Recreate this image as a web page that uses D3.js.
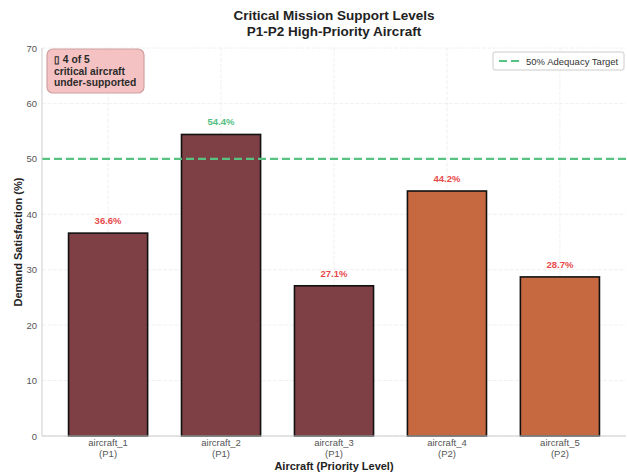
<!DOCTYPE html>
<html>
<head>
<meta charset="utf-8">
<script src="https://cdn.jsdelivr.net/npm/d3@7"></script>
<style>
  body { margin: 0; background: #fff; }
  text { font-family: "Liberation Sans", Arial, sans-serif; }
</style>
</head>
<body>
<div id="chart"></div>
<script>
'use strict';

const aircraft = ["aircraft_1", "aircraft_2", "aircraft_3", "aircraft_4", "aircraft_5"];
const priority = ["P1", "P1", "P1", "P2", "P2"];
const satisfaction = [36.6, 54.4, 27.1, 44.2, 28.7];
const yTicks = [0, 10, 20, 30, 40, 50, 60, 70];
const target = 50;

const width = 627, height = 475;
const margin = { top: 48, right: 1, bottom: 39, left: 42 };

const colors = { P1: "#7a3a3f", P2: "#c4633a" };

const svg = d3.select("#chart").append("svg")
    .attr("width", width)
    .attr("height", height);

// x in category units like the original (bar width 0.7)
const x = d3.scaleLinear()
    .domain([-0.585, aircraft.length - 1 + 0.585])
    .range([margin.left, width - margin.right]);

const y = d3.scaleLinear()
    .domain([0, 70])
    .range([height - margin.bottom, margin.top]);

const barW = x(0.35) - x(-0.35);

// grid
svg.append("g")
    .selectAll("line.hgrid")
    .data(yTicks)
    .enter().append("line")
    .attr("x1", x.range()[0]).attr("x2", x.range()[1])
    .attr("y1", d => y(d)).attr("y2", d => y(d))
    .attr("stroke", "#ececec").attr("stroke-width", 0.8)
    .attr("stroke-dasharray", "4,1.5");

svg.append("g")
    .selectAll("line.vgrid")
    .data(aircraft)
    .enter().append("line")
    .attr("x1", (d, i) => x(i)).attr("x2", (d, i) => x(i))
    .attr("y1", y(0)).attr("y2", y(70))
    .attr("stroke", "#ececec").attr("stroke-width", 0.8)
    .attr("stroke-dasharray", "4,1.5");

// bars
svg.append("g")
    .selectAll("rect")
    .data(satisfaction)
    .enter().append("rect")
    .attr("x", (d, i) => x(i) - barW / 2)
    .attr("y", d => y(d))
    .attr("width", barW)
    .attr("height", d => y(0) - y(d))
    .attr("fill", (d, i) => colors[priority[i]])
    .attr("fill-opacity", 0.97)
    .attr("stroke", "#111")
    .attr("stroke-width", 1.6);

// value labels
svg.append("g")
    .selectAll("text")
    .data(satisfaction)
    .enter().append("text")
    .attr("x", (d, i) => x(i))
    .attr("y", d => y(d) - 9)
    .attr("text-anchor", "middle")
    .attr("font-size", 9.5)
    .attr("font-weight", "bold")
    .attr("fill", d => d >= target ? "#52be80" : "#e84a4a")
    .text(d => d.toFixed(1) + "%");

// target line
svg.append("line")
    .attr("x1", x.range()[0]).attr("x2", x.range()[1])
    .attr("y1", y(target)).attr("y2", y(target))
    .attr("stroke", "#58c282")
    .attr("stroke-width", 2.2)
    .attr("stroke-dasharray", "8,4");

// spines
svg.append("line")
    .attr("x1", x.range()[0]).attr("x2", x.range()[0])
    .attr("y1", y(0)).attr("y2", y(70))
    .attr("stroke", "#cccccc").attr("stroke-width", 1);
svg.append("line")
    .attr("x1", x.range()[0]).attr("x2", x.range()[1])
    .attr("y1", y(0)).attr("y2", y(0))
    .attr("stroke", "#cccccc").attr("stroke-width", 1);

// y axis
const yAxis = svg.append("g")
    .attr("transform", "translate(" + margin.left + ",0)")
    .call(d3.axisLeft(y).tickValues(yTicks).tickSize(0).tickPadding(5));
yAxis.select(".domain").remove();
yAxis.selectAll("text")
    .attr("font-size", 9.5)
    .attr("fill", "#555")
    .attr("font-family", "Liberation Sans, Arial, sans-serif");

// x axis
const xAxis = svg.append("g")
    .attr("transform", "translate(0," + y(0) + ")")
    .call(d3.axisBottom(x).tickValues(d3.range(aircraft.length)).tickSize(0).tickFormat(""));
xAxis.select(".domain").remove();

const xLab = svg.append("g")
    .selectAll("text")
    .data(aircraft)
    .enter().append("text")
    .attr("x", (d, i) => x(i))
    .attr("y", y(0) + 10)
    .attr("text-anchor", "middle")
    .attr("font-size", 9.5)
    .attr("fill", "#555");
xLab.append("tspan").attr("x", (d, i) => x(i)).text(d => d);
xLab.append("tspan").attr("x", (d, i) => x(i)).attr("dy", 11).text((d, i) => "(" + priority[i] + ")");

// axis titles
svg.append("text")
    .attr("x", (x.range()[0] + x.range()[1]) / 2)
    .attr("y", 470)
    .attr("text-anchor", "middle")
    .attr("font-size", 11)
    .attr("font-weight", "bold")
    .attr("fill", "#222")
    .text("Aircraft (Priority Level)");

svg.append("text")
    .attr("transform", "translate(22," + ((y(0) + y(70)) / 2) + ") rotate(-90)")
    .attr("text-anchor", "middle")
    .attr("font-size", 11)
    .attr("font-weight", "bold")
    .attr("fill", "#222")
    .text("Demand Satisfaction (%)");

// title
svg.append("text")
    .attr("x", (x.range()[0] + x.range()[1]) / 2)
    .attr("y", 20)
    .attr("text-anchor", "middle")
    .attr("font-size", 13.5)
    .attr("font-weight", "bold")
    .attr("fill", "#222")
    .text("Critical Mission Support Levels");
svg.append("text")
    .attr("x", (x.range()[0] + x.range()[1]) / 2)
    .attr("y", 36)
    .attr("text-anchor", "middle")
    .attr("font-size", 13.5)
    .attr("font-weight", "bold")
    .attr("fill", "#222")
    .text("P1-P2 High-Priority Aircraft");

// annotation box
const under = satisfaction.filter(d => d < target).length;
const note = ["\u25AF " + under + " of " + satisfaction.length, "critical aircraft", "under-supported"];
svg.append("rect")
    .attr("x", 47).attr("y", 49)
    .attr("width", 97).attr("height", 44)
    .attr("rx", 6)
    .attr("fill", "#f4c2c2")
    .attr("stroke", "#d0a0a0")
    .attr("stroke-width", 1.2);
svg.append("g")
    .selectAll("text")
    .data(note)
    .enter().append("text")
    .attr("x", 54)
    .attr("y", (d, i) => 63 + i * 11.5)
    .attr("font-size", 10.3)
    .attr("font-weight", "bold")
    .attr("fill", "#2a2a2a")
    .text(d => d);

// legend
svg.append("rect")
    .attr("x", 493).attr("y", 52)
    .attr("width", 131).attr("height", 18)
    .attr("rx", 2)
    .attr("fill", "#fff")
    .attr("stroke", "#cccccc");
svg.append("line")
    .attr("x1", 499).attr("x2", 521)
    .attr("y1", 61).attr("y2", 61)
    .attr("stroke", "#58c282")
    .attr("stroke-width", 2.2)
    .attr("stroke-dasharray", "8,4");
svg.append("text")
    .attr("x", 526).attr("y", 64.5)
    .attr("font-size", 9.5)
    .attr("fill", "#333")
    .text("50% Adequacy Target");
</script>
</body>
</html>
